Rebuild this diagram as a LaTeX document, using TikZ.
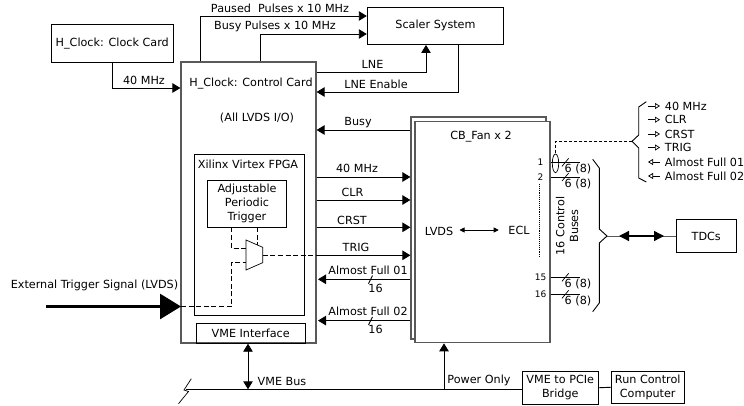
\documentclass[tikz,border=0pt]{standalone}
\usepackage{fontspec}
\setmainfont{DejaVu Sans}
\usetikzlibrary{arrows.meta}
\tikzset{
  every node/.style={font=\fontsize{11.2}{13.8}\selectfont,inner sep=0pt},
  box/.style={draw,line width=0.9pt,rectangle},
  card/.style={draw=black!65,line width=1.2pt,rectangle},
  sig/.style={line width=0.9pt},
  dashsig/.style={line width=0.8pt,dash pattern=on 5pt off 2.6pt},
  busnum/.style={font=\fontsize{9}{10}\selectfont},
}
\begin{document}
\begin{tikzpicture}[x=1pt,y=-1pt,>={Triangle[length=8pt,width=9.5pt]}]
\useasboundingbox (0,0) rectangle (744,406);
% boxes
\node [box,minimum width=121.5pt,minimum height=37.5pt,name=clockcard] at (112.25,43.25) {H\_Clock: Clock Card};
\node [card,minimum width=135pt,minimum height=281pt,name=controlcard] at (248.5,202.5) {};
\node [box,minimum width=136.5pt,minimum height=37.5pt,name=scaler] at (435.5,25.75) {Scaler System};
\node [box,minimum width=110pt,minimum height=161pt,name=fpga] at (249.5,235) {};
\node [box,minimum width=79pt,minimum height=47pt,align=center,name=periodic] at (247,203.5) {Adjustable\\Periodic\\Trigger};
\node [box,minimum width=109.5pt,minimum height=19.5pt,name=vmeif] at (250.75,333.5) {VME Interface};
\node [card,minimum width=135pt,minimum height=222pt,name=fanback] at (478.5,228) {};
\node [card,fill=white,minimum width=135pt,minimum height=221.5pt,name=fan] at (482.5,232) {};
\node [box,minimum width=76.5pt,minimum height=33pt,align=center,name=bridge] at (560.25,387.75) {VME to PCIe\\Bridge};
\node [box,minimum width=72.5pt,minimum height=32.5pt,align=center,name=runcontrol] at (647.75,387.25) {Run Control\\Computer};
\node [box,minimum width=60.5pt,minimum height=32.5pt,name=tdcs] at (706.25,236) {TDCs};

% text on the cards
\node [name=controltitle] at (251,84) {H\_Clock: Control Card};
\node [name=lvdsio] at (257,118) {(All LVDS I/O)};
\node [name=fpgatitle] at (248,164) {Xilinx Virtex FPGA};
\node [name=fantitle] at (481,137) {CB\_Fan x 2};
\node [name=lvds] at (439,231) {LVDS};
\node [name=ecl] at (519,230) {ECL};
\coordinate (lvdsline) at (459.5,230);
\draw [{Triangle[length=5pt,width=5pt]}-{Triangle[length=5pt,width=5pt]},line width=0.7pt,shorten >=9.5pt] (lvdsline) -- (lvdsline -| ecl.west);

% top connectors
\coordinate (pausedcorner) at (200,16);
\coordinate (busycorner) at (260.5,34);
\coordinate (lnecorner) at (426,72);
\coordinate (enablecorner) at (458,92);
\coordinate (clockcorner) at (112.5,88);
\draw [->,sig] (clockcorner |- clockcard.south) -- (clockcorner) -- (clockcorner -| controlcard.west);
\draw [->,sig] (pausedcorner |- controlcard.north) -- (pausedcorner) -- (pausedcorner -| scaler.west);
\draw [->,sig] (busycorner |- controlcard.north) -- (busycorner) -- (busycorner -| scaler.west);
\draw [->,sig] (lnecorner -| controlcard.east) -- (lnecorner) -- (lnecorner |- scaler.south);
\draw [->,sig] (enablecorner |- scaler.south) -- (enablecorner) -- (enablecorner -| controlcard.east);
\node [name=clocklabel] at (144,80) {40 MHz};
\node [name=pausedlabel] at (280,8) {Paused\ \ Pulses x 10 MHz};
\node [name=busylabel] at (275,26) {Busy Pulses x 10 MHz};
\node [name=lnelabel] at (372.5,64) {LNE};
\node [name=enablelabel] at (376,84) {LNE Enable};

% between the cards
\coordinate (busyline) at (360,130);
\draw [->,sig] (busyline -| fanback.west) -- (busyline -| controlcard.east);
\node [name=busysig] at (358,123) {Busy};
\foreach \y/\ly/\lx/\name/\txt in {177/168/357/forty/40 MHz, 200/192/352.5/clr/CLR, 227.3/220/352/crst/CRST} {
  \coordinate (\name line) at (360,\y);
  \draw [->,sig] (\name line -| controlcard.east) -- (\name line -| fanback.west);
  \node [name=\name label] at (\lx,\ly) {\txt};
}
\node [name=triglabel] at (356,247) {TRIG};
\foreach \y/\num in {279.3/01, 320.6/02} {
  \coordinate (full\num line) at (360,\y);
  \draw [->,sig] (full\num line -| fanback.west) -- (318,\y);
  \draw [sig] (368.5,\y+4.4) -- (372.5,\y-3.7);
  \node [name=full\num label] at (368,\y-9.3) {Almost Full \num};
  \node [name=full\num width] at (375.5,\y+8.7) {16};
}

% trigger select
\coordinate (muxa) at (246,240);
\coordinate (muxb) at (262.7,247.3);
\coordinate (muxc) at (262.7,262.7);
\coordinate (muxd) at (246,270);
\draw [sig,line width=0.7pt] (muxa) -- (muxb) -- (muxc) -- (muxd) -- cycle;
\coordinate (trigout) at (262.7,255.3);
\coordinate (extin) at (181,306.5);
\coordinate (extcorner) at (231.7,306.5);
\coordinate (muxlow) at (246,262);
\coordinate (muxhigh) at (246,248.3);
\draw [dashsig] (extin) -- (extcorner) -- (extcorner |- muxlow) -- (muxlow);
\draw [dashsig] (extcorner |- periodic.south) -- (extcorner |- muxhigh) -- (muxhigh);
\draw [dashsig] (257.7,227) -- (257.7,244.5);
\draw [dashsig] (trigout) -- (trigout -| controlcard.east);
\draw [->,sig] (trigout -| controlcard.east) -- (trigout -| fanback.west);
\coordinate (extstart) at (46,306.5);
\draw [-{Triangle[length=21pt,width=25pt]},line width=2.8pt] (extstart) -- (extin);
\node [name=extlabel] at (94.5,285) {External Trigger Signal (LVDS)};

% VME bus
\coordinate (buslineleft) at (186,389.3);
\coordinate (vmearrow) at (248,389.3);
\coordinate (powerarrow) at (444,389.3);
\draw [sig] (buslineleft) -- (buslineleft -| bridge.west);
\draw [<->,sig] (vmearrow |- vmeif.south) -- (vmearrow);
\draw [->,sig] (powerarrow) -- (powerarrow |- fan.south);
\draw [sig] (bridge.east) -- (runcontrol.west);
\draw [line width=0.7pt] (191.3,378.7) -- (184,390) -- (188.5,391.5) -- (178.5,403.7);
\node [name=vmelabel] at (282,381) {VME Bus};
\node [name=powerlabel] at (479,380) {Power Only};

% control buses
\foreach \y/\num/\lbl in {162.3/1/one, 177/2/two, 277.3/15/fifteen, 294.3/16/sixteen} {
  \coordinate (bus\lbl) at (579.7,\y);
  \draw [sig] (bus\lbl -| fan.east) -- (bus\lbl);
  \draw [sig,line width=0.7pt] (562,\y+4) -- (568.7,\y-4);
  \node [name=width\lbl] at (578,\y+6.5) {6 (8)};
  \node [busnum,name=num\lbl] at (540.5,\y) {\num};
}
\draw [densely dotted,line width=0.9pt] (539.7,184) -- (539.7,258);
\node [rotate=90,align=center,name=buslabel] at (567,226) {16 Control\\Buses};
\draw [sig,line width=0.7pt] (555.5,163.3) ellipse (3.2pt and 9.3pt);

% braces and bus to the TDCs
\coordinate (bigtip) at (607,236);
\coordinate (smalltip) at (632,141.3);
\draw [sig] (592.7,159.3) -- (599.3,168) -- (599.3,229) -- (bigtip) -- (599.3,243) -- (599.3,303) -- (592.7,311.7);
\draw [sig] (646.3,101.7) -- (638.7,107) -- (638.7,135) -- (smalltip) -- (638.7,148) -- (638.7,178) -- (646.3,182);
\draw [dashsig,dash pattern=on 3.5pt off 1.5pt] (smalltip) -- (555.5,141.3) -- (555.5,154);
\draw [draw=black!65,line width=1pt] (bigtip) -- (tdcs.west);
\coordinate (tdcleft) at (619,236);
\draw [{Triangle[length=10pt,width=10pt]}-{Triangle[length=10pt,width=10pt]},line width=1.3pt] (tdcleft) -- (664,236);
\foreach \y/\dir/\txt/\name in {106/->/40 MHz/listforty, 119.7/->/CLR/listclr, 134/->/CRST/listcrst, 147.5/->/TRIG/listtrig, 162/<-/Almost Full 01/listfullone, 176/<-/Almost Full 02/listfulltwo} {
  \node [anchor=west,name=\name] at (664.7,\y) {\txt};
  \draw [\dir,>={Triangle[open,length=5pt,width=6pt]},line width=0.7pt] (648,\y) -- (660,\y);
}
\end{tikzpicture}
\end{document}
